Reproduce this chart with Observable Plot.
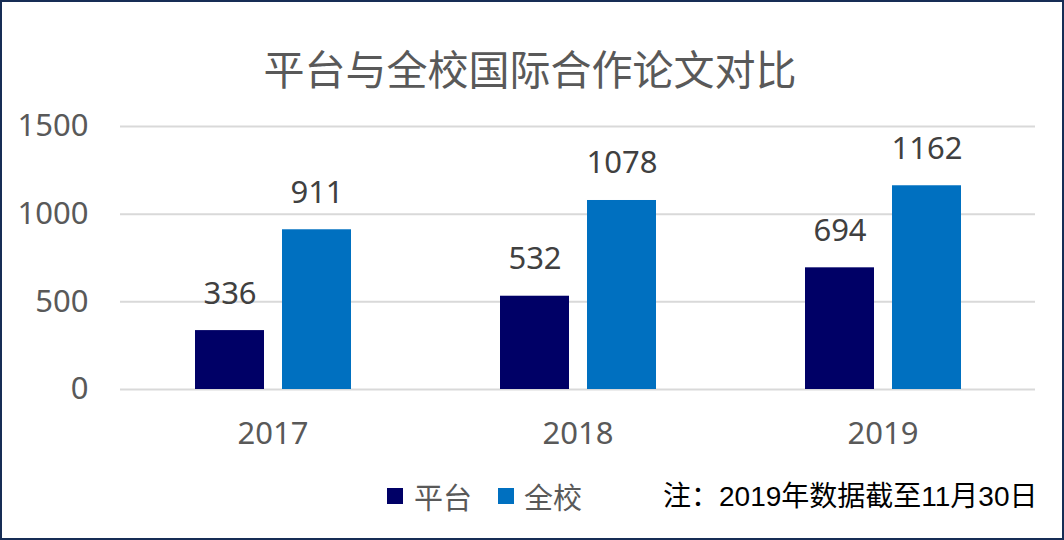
<!DOCTYPE html>
<html>
<head>
<meta charset="utf-8">
<script src="https://cdn.jsdelivr.net/npm/d3@7"></script>
<script src="https://cdn.jsdelivr.net/npm/@observablehq/plot@0.6"></script>
<style>
  html, body { margin: 0; padding: 0; background: #fff; }
  #page { position: relative; width: 1064px; height: 540px; overflow: hidden; background: #fff; }
  #frame { position: absolute; left: 0; top: 0; width: 1064px; height: 540px; box-sizing: border-box; border: 2px solid #172d55; pointer-events: none; }
  #title { position: absolute; left: 0; width: 1060px; top: 41px; text-align: center; font-family: "Noto Sans CJK SC", "Noto Sans", sans-serif; font-size: 41px; line-height: 52px; color: #595959; }
  #chart { position: absolute; left: 0; top: 100px; }
  .sw { position: absolute; width: 16px; height: 16px; top: 488px; }
  .lt { position: absolute; top: 477px; font-family: "Noto Sans CJK SC", "Noto Sans", sans-serif; font-size: 29px; line-height: 38px; color: #595959; }
  #note { position: absolute; left: 663px; top: 479px; font-family: "Liberation Sans", "Noto Sans CJK SC", sans-serif; font-size: 28px; line-height: 36px; color: #000; white-space: nowrap; }
</style>
</head>
<body>
<div id="page">
  <div id="title"></div>
  <div id="chart"></div>
  <div id="legend"></div>
  <div id="note"></div>
  <div id="frame"></div>
</div>
<script>
const titleText = "平台与全校国际合作论文对比";
const noteText = "注：2019年数据截至11月30日";
const years = ["2017", "2018", "2019"];
const series = ["平台", "全校"];
const platform = [336, 532, 694];
const school = [911, 1078, 1162];
const colors = ["#000066", "#0070c0"];
const yTicks = [0, 500, 1000, 1500];

const data = years.flatMap((yr, i) => [
  {year: yr, series: series[0], value: platform[i]},
  {year: yr, series: series[1], value: school[i]}
]);

document.getElementById("title").textContent = titleText;
document.getElementById("note").textContent = noteText;

const legend = document.getElementById("legend");
const legendPos = [[387, 414], [498, 524]];
series.forEach((s, i) => {
  const sw = document.createElement("div");
  sw.className = "sw";
  sw.style.left = legendPos[i][0] + "px";
  sw.style.background = colors[i];
  legend.appendChild(sw);
  const t = document.createElement("div");
  t.className = "lt";
  t.style.left = legendPos[i][1] + "px";
  t.textContent = s;
  legend.appendChild(t);
});

const chart = Plot.plot({
  width: 1064,
  height: 360,
  marginTop: 26,
  marginBottom: 71,
  marginLeft: 120,
  marginRight: 29,
  style: {fontFamily: "'Noto Sans', 'Noto Sans CJK SC', sans-serif", background: "transparent"},
  fx: {domain: years, padding: 0, label: null},
  x: {domain: series, paddingInner: 0.207, paddingOuter: 0.856, axis: null},
  y: {domain: [0, 1500], label: null},
  color: {domain: series, range: colors},
  marks: [
    Plot.gridY(yTicks, {stroke: "#d9d9d9", strokeOpacity: 1, strokeWidth: 2}),
    Plot.barY(data, {fx: "year", x: "series", y: "value", fill: "series"}),
    Plot.text(data, {fx: "year", x: "series", y: "value", text: d => String(d.value), dy: -37, fill: "#404040", fontSize: 31}),
    Plot.axisY(yTicks, {tickSize: 0, tickPadding: 32, fontSize: 31, fill: "#595959", label: null, tickFormat: d => String(d)}),
    Plot.axisFx({anchor: "bottom", tickSize: 0, tickPadding: 32, fontSize: 31, fill: "#595959", label: null})
  ]
});
document.getElementById("chart").appendChild(chart);
</script>
</body>
</html>
